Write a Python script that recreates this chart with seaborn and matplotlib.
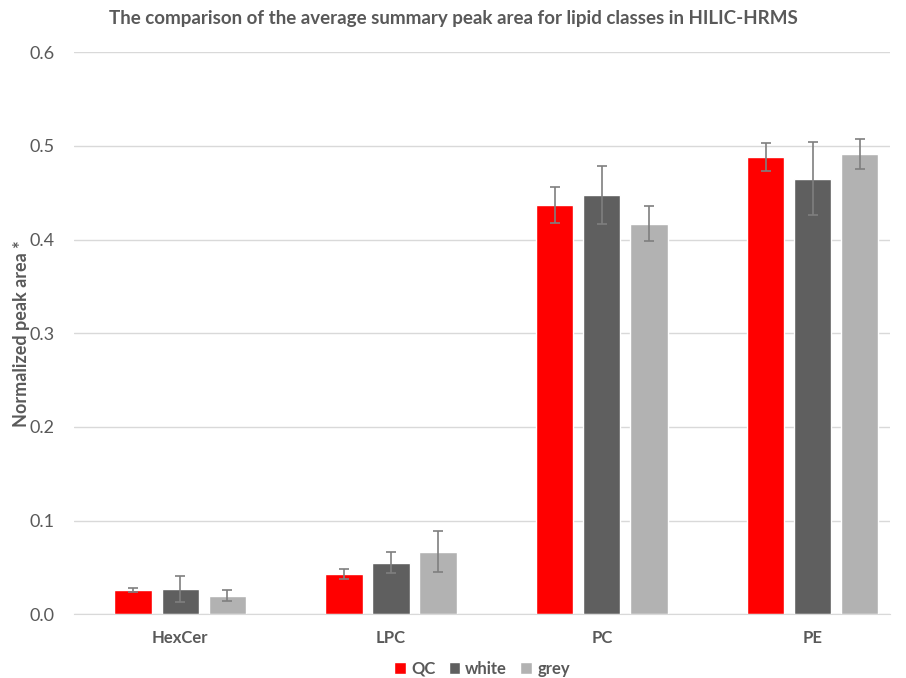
import matplotlib
matplotlib.use("Agg")
import matplotlib.pyplot as plt
import numpy as np
import pandas as pd
import seaborn as sns

categories = ["HexCer", "LPC", "PC", "PE"]
groups = ["QC", "white", "grey"]
qc_mean = [0.026, 0.043, 0.437, 0.488]
white_mean = [0.027, 0.055, 0.448, 0.465]
grey_mean = [0.020, 0.067, 0.417, 0.491]
qc_err = [0.0025, 0.005, 0.019, 0.015]
white_err = [0.014, 0.011, 0.031, 0.039]
grey_err = [0.006, 0.022, 0.019, 0.016]

colors = ["#ff0000", "#5f5f5f", "#b2b2b2"]
text_col = "#595959"

rows = []
for g, means, errs in zip(groups, [qc_mean, white_mean, grey_mean], [qc_err, white_err, grey_err]):
    for c, m, e in zip(categories, means, errs):
        rows.append({"class": c, "group": g, "value": m, "err": e})
df = pd.DataFrame(rows)

sns.set_style("white")
plt.rcParams["font.family"] = ["Lato", "DejaVu Sans"]

fig = plt.figure(figsize=(9.06, 6.78), dpi=100)
ax = fig.add_axes([0.082, 0.094, 0.900, 0.829])

sns.barplot(data=df, x="class", y="value", hue="group", order=categories,
            hue_order=groups, palette=colors, width=0.67, gap=0.21,
            errorbar=None, ax=ax, legend=True, saturation=1)

# error bars at bar centres
for cont, g in zip(ax.containers, groups):
    sub = df[df["group"] == g].set_index("class").loc[categories]
    xs = [p.get_x() + p.get_width() / 2 for p in cont.patches]
    ax.errorbar(xs, sub["value"], yerr=sub["err"], fmt="none",
                ecolor="#7f7f7f", elinewidth=1.2, capsize=3.5, capthick=1.2, zorder=5)

ax.set_ylim(0, 0.6)
ax.set_xlim(-0.502, 3.365)
ax.set_yticks(np.arange(0, 0.61, 0.1))
ax.set_yticklabels([f"{v:.1f}" for v in np.arange(0, 0.61, 0.1)])
ax.yaxis.grid(True, color="#d9d9d9", linewidth=1)
ax.set_axisbelow(True)
for s in ["top", "right", "left"]:
    ax.spines[s].set_visible(False)
ax.spines["bottom"].set_color("#d9d9d9")
ax.tick_params(axis="both", length=0, colors=text_col)
ax.tick_params(axis="y", labelsize=13, pad=14)
ax.tick_params(axis="x", labelsize=12, pad=11)
for lab in ax.get_xticklabels():
    lab.set_fontweight("bold")
ax.set_xlabel("")
ax.set_ylabel("Normalized peak area *", fontsize=13, fontweight="bold", color=text_col, labelpad=0)

fig.suptitle("The comparison of the average summary peak area for lipid classes in HILIC-HRMS",
             x=0.5, y=0.985, fontsize=13.5, fontweight="bold", color=text_col)

ax.legend(loc="center", bbox_to_anchor=(0.5, -0.097), ncol=3, frameon=False,
          handlelength=0.7, handleheight=0.7, handletextpad=0.3, columnspacing=0.8,
          prop={"weight": "bold", "size": 12}, labelcolor=text_col)

fig.savefig("out.png", dpi=100)
